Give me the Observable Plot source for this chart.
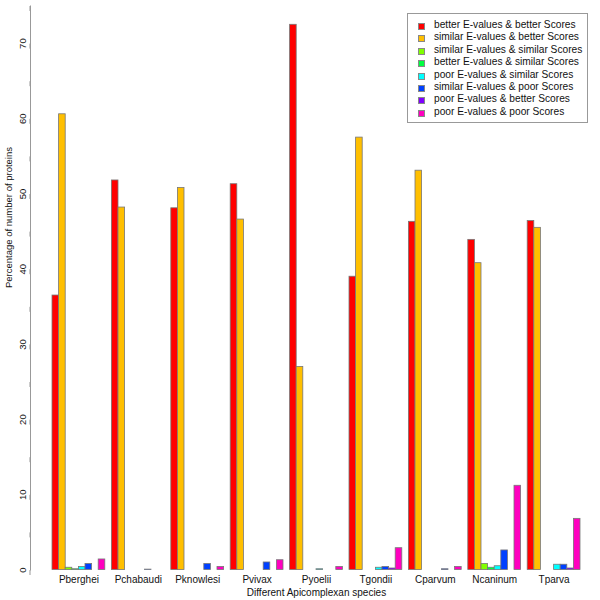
<!DOCTYPE html>
<html>
<head>
<meta charset="utf-8">
<script src="https://cdn.jsdelivr.net/npm/d3@7"></script>
<script src="https://cdn.jsdelivr.net/npm/@observablehq/plot@0.6"></script>
<style>
  html, body { margin: 0; padding: 0; background: #fff; }
  #wrap { position: relative; width: 600px; height: 600px; font-family: "Liberation Sans", Arial, sans-serif; }
  #legend { position: absolute; left: 407px; top: 13px; width: 179px; height: 108px; border: 1px solid #999; background: #fff; box-sizing: content-box; }
  .item { position: absolute; left: 0; height: 12px; font-size: 10.2px; color: #111; white-space: nowrap; }
  .sw { position: absolute; left: 10px; top: 3px; width: 5px; height: 5px; border: 0.8px solid #888; }
  .lab { position: absolute; left: 26px; top: -1px; line-height: 12px; }
</style>
</head>
<body>
<div id="wrap"></div>
<script>
const species = ["Pberghei","Pchabaudi","Pknowlesi","Pvivax","Pyoelii","Tgondii","Cparvum","Ncaninum","Tparva"];
const categories = [
  "better E-values & better Scores",
  "similar E-values & better Scores",
  "similar E-values & similar Scores",
  "better E-values & similar Scores",
  "poor E-values & similar Scores",
  "similar E-values & poor Scores",
  "poor E-values & better Scores",
  "poor E-values & poor Scores"
];
const colors = ["#FF0000","#FFBF00","#80FF00","#00FF40","#00FFFF","#0040FF","#8000FF","#FF00BF"];

const betterBetter   = [36.5, 51.8, 48.1, 51.3, 72.5, 39.0, 46.3, 43.9, 46.4];
const similarBetter  = [60.6, 48.2, 50.8, 46.6, 27.0, 57.5, 53.1, 40.8, 45.5];
const similarSimilar = [0.3, 0.0, 0.0, 0.0, 0.0, 0.0, 0.0, 0.8, 0.0];
const betterSimilar  = [0.1, 0.0, 0.0, 0.0, 0.0, 0.0, 0.0, 0.3, 0.0];
const poorSimilar    = [0.4, 0.0, 0.0, 0.0, 0.1, 0.3, 0.0, 0.5, 0.7];
const similarPoor    = [0.8, 0.05, 0.8, 1.0, 0.0, 0.4, 0.1, 2.6, 0.7];
const poorBetter     = [0.0, 0.0, 0.0, 0.0, 0.0, 0.2, 0.0, 0.0, 0.2];
const poorPoor       = [1.4, 0.0, 0.4, 1.3, 0.4, 2.9, 0.4, 11.2, 6.8];

const yTicks = [0,5,10,15,20,25,30,35,40,45,50,55,60,65,70,75];
const yLabel = "Percentage of number of proteins";
const xLabel = "Different Apicomplexan species";

const series = [betterBetter, similarBetter, similarSimilar, betterSimilar, poorSimilar, similarPoor, poorBetter, poorPoor];
const data = [];
species.forEach((s, i) => {
  categories.forEach((c, j) => data.push({species: s, cat: c, value: series[j][i]}));
});

const chart = Plot.plot({
  width: 600,
  height: 600,
  marginLeft: 52,
  marginRight: 20,
  marginTop: 5.5,
  marginBottom: 30.5,
  style: {fontFamily: "Liberation Sans, Arial, sans-serif", fontSize: "9.5px", color: "#111", background: "#fff"},
  fx: {domain: species, paddingInner: 1/9, paddingOuter: 0, round: false, label: null},
  x: {domain: categories, padding: 0, round: false, axis: null},
  y: {domain: [0, 75], axis: null},
  color: {domain: categories, range: colors},
  marks: [
    Plot.barY(data, {fx: "species", x: "cat", y: "value", fill: "cat", stroke: "#777", strokeWidth: 0.8}),
    Plot.frame({anchor: "left", facetAnchor: "left", dx: -22, stroke: "#999"}),
    Plot.axisY({
      ticks: yTicks,
      tickFormat: d => d % 10 === 0 ? String(d) : "",
      dx: -22,
      tickSize: 5,
      tickPadding: 3,
      rotate: -90,
      textAnchor: "middle",
      stroke: "#999",
      fill: "#111",
      label: null
    }),
    Plot.text([yLabel], {text: d => d, frameAnchor: "left", rotate: -90, dx: -44, facetAnchor: "left", fill: "#111", fontSize: 9.5}),
    Plot.axisFx({anchor: "bottom", tickSize: 0, tickPadding: 6, label: xLabel, labelAnchor: "center", labelArrow: "none", labelOffset: 26, fill: "#111", fontSize: 10})
  ]
});

const wrap = document.getElementById("wrap");
wrap.appendChild(chart);

const legend = document.createElement("div");
legend.id = "legend";
categories.forEach((c, j) => {
  const it = document.createElement("div");
  it.className = "item";
  it.style.top = (6 + j * 12.4) + "px";
  const sw = document.createElement("div");
  sw.className = "sw";
  sw.style.background = colors[j];
  const lab = document.createElement("div");
  lab.className = "lab";
  lab.textContent = c;
  it.appendChild(sw);
  it.appendChild(lab);
  legend.appendChild(it);
});
wrap.appendChild(legend);
</script>
</body>
</html>
